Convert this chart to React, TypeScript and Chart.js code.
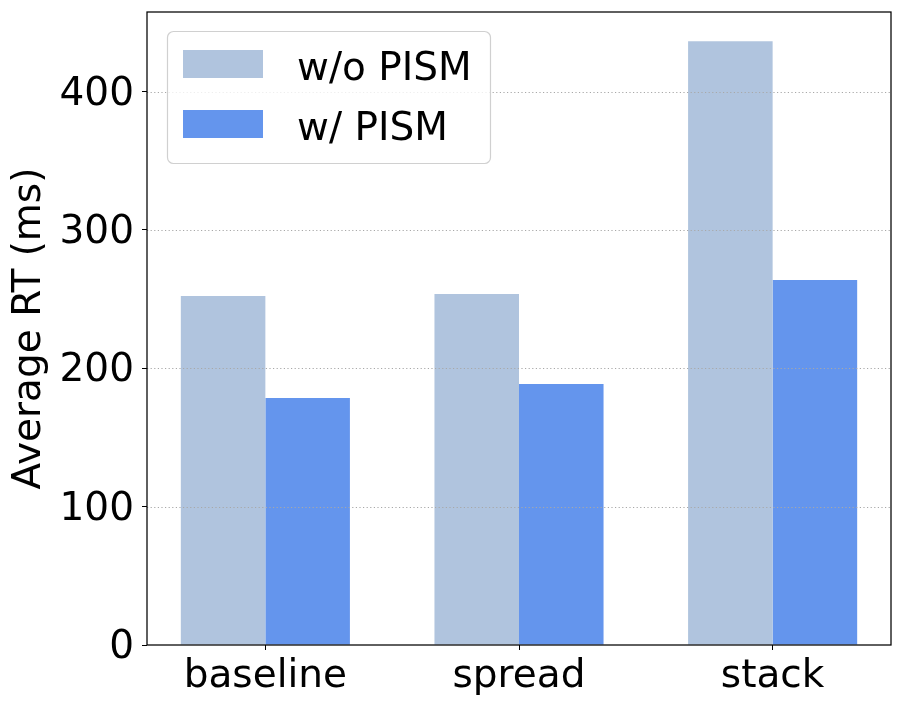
import React, { useEffect, useRef } from "react";
import { Chart, registerables } from "chart.js";

Chart.register(...registerables);

const categories = ["baseline", "spread", "stack"];
const withoutPISM = [252.2, 253.6, 436.3];
const withPISM = [178.6, 188.7, 263.8];
const seriesLabels = ["w/o PISM", "w/ PISM"];
const seriesColors = ["#B0C4DE", "#6495ED"];
const yTicks = [0, 100, 200, 300, 400];
const yTitle = "Average RT (ms)";

const FONT = '"DejaVu Sans", "Liberation Sans", sans-serif';
const FS = 39;

const frameAndGrid = {
  id: "frameAndGrid",
  afterDatasetsDraw(chart: any) {
    const { ctx, chartArea: a, scales } = chart;
    const y = scales.y;
    ctx.save();
    ctx.strokeStyle = "#a8a8a8";
    ctx.lineWidth = 1;
    ctx.setLineDash([1.2, 2.4]);
    y.ticks.forEach((t: any) => {
      if (t.value === 0) return;
      const py = Math.round(y.getPixelForValue(t.value)) + 0.5;
      ctx.beginPath();
      ctx.moveTo(a.left, py);
      ctx.lineTo(a.right, py);
      ctx.stroke();
    });
    ctx.setLineDash([]);
    ctx.strokeStyle = "#000";
    ctx.lineWidth = 1.25;
    ctx.strokeRect(a.left, a.top, a.right - a.left, a.bottom - a.top);
    ctx.restore();
  },
};

const boxLegend = {
  id: "boxLegend",
  afterDraw(chart: any) {
    const { ctx, chartArea: a } = chart;
    const x0 = a.left + 20;
    const y0 = a.top + 19;
    const w = 323;
    const h = 132;
    ctx.save();
    ctx.beginPath();
    (ctx as any).roundRect(x0 + 0.5, y0 + 0.5, w, h, 6);
    ctx.fillStyle = "rgba(255,255,255,0.8)";
    ctx.fill();
    ctx.strokeStyle = "#d0d0d0";
    ctx.lineWidth = 1.2;
    ctx.stroke();
    ctx.font = `${FS}px ${FONT}`;
    ctx.textBaseline = "alphabetic";
    ctx.textAlign = "left";
    chart.data.datasets.forEach((ds: any, i: number) => {
      const py = y0 + 19 + i * 60;
      ctx.fillStyle = ds.backgroundColor;
      ctx.fillRect(x0 + 16, py, 80, 28);
      ctx.fillStyle = "#000";
      ctx.fillText(ds.label, x0 + 130, py + 30);
    });
    ctx.restore();
  },
};

export default function App() {
  const ref = useRef<HTMLCanvasElement>(null);
  useEffect(() => {
    if (!ref.current) return;
    const tickFont = { family: FONT, size: FS };
    const chart = new Chart(ref.current, {
      type: "bar",
      data: {
        datasets: [withoutPISM, withPISM].map((vals, si) => ({
          label: seriesLabels[si],
          data: categories.map((_, i) => ({ x: i, y: vals[i] })),
          backgroundColor: seriesColors[si],
          borderWidth: 0,
          categoryPercentage: 2 / 3,
          barPercentage: 1,
        })),
      },
      options: {
        animation: false,
        responsive: false,
        maintainAspectRatio: false,
        devicePixelRatio: 1,
        layout: { padding: { top: 12, right: 11, left: 0, bottom: 0 } },
        plugins: { legend: { display: false }, tooltip: { enabled: false } },
        scales: {
          x: {
            type: "linear",
            offset: false,
            min: -0.4667,
            max: 2.4667,
            afterBuildTicks: (s: any) => {
              s.ticks = categories.map((_, i) => ({ value: i }));
            },
            afterFit: (s: any) => {
              s.height = 64;
              s.paddingLeft = 0;
              s.paddingRight = 0;
            },
            grid: {
              offset: false,
              drawOnChartArea: false,
              tickLength: 5,
              tickColor: "#000",
              tickWidth: 1,
            },
            border: { display: false },
            ticks: {
              font: tickFont,
              color: "#000",
              padding: 3,
              maxRotation: 0,
              autoSkip: false,
              callback: (v: any) => categories[Math.round(v)] ?? "",
            },
          },
          y: {
            type: "linear",
            min: 0,
            max: 457.5,
            afterBuildTicks: (s: any) => {
              s.ticks = yTicks.map((v) => ({ value: v }));
            },
            afterFit: (s: any) => {
              s.width = 147;
              s.paddingTop = 0;
              s.paddingBottom = 0;
            },
            grid: {
              drawOnChartArea: false,
              tickLength: 5,
              tickColor: "#000",
              tickWidth: 1,
            },
            border: { display: false },
            ticks: {
              font: tickFont,
              color: "#000",
              padding: 8,
              labelOffset: 3,
            },
            title: {
              display: true,
              text: yTitle,
              font: tickFont,
              color: "#000",
              padding: { top: 6, bottom: 0 },
            },
          },
        },
      },
      plugins: [frameAndGrid, boxLegend],
    } as any);
    return () => chart.destroy();
  }, []);
  return (
    <div style={{ position: "absolute", left: 0, top: 0, width: 902, height: 709 }}>
      <canvas ref={ref} width={902} height={709} style={{ display: "block" }} />
    </div>
  );
}
